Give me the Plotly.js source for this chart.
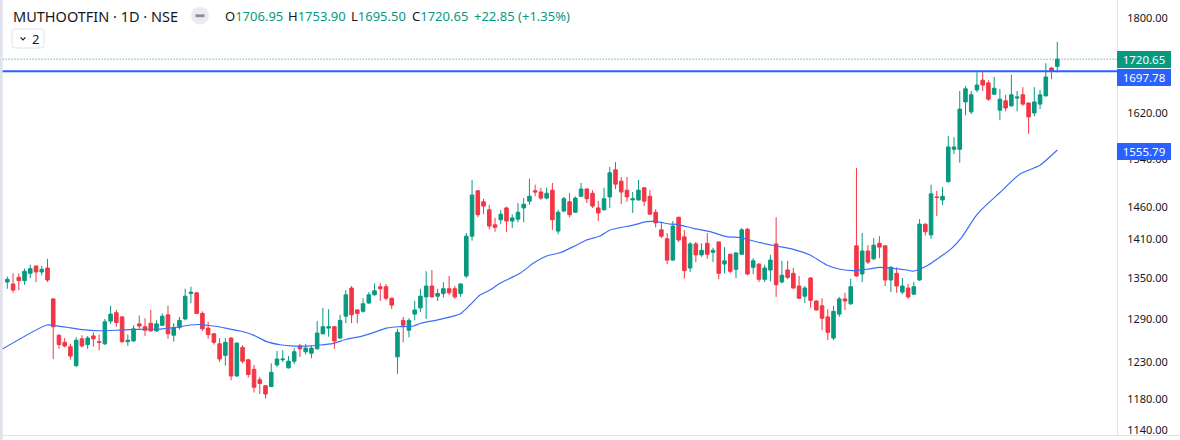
<!DOCTYPE html>
<html><head><meta charset="utf-8">
<script src="https://cdn.plot.ly/plotly-3.0.1.min.js"></script>
<style>html,body{margin:0;padding:0;background:#fff;}#chart{width:1180px;height:440px;}</style>
</head><body><div id="chart"></div>
<script>
// ---- data ----
const opens=[1344,1341,1351,1346,1357,1368,1359,1365,1319,1267,
1257,1251,1225,1262,1254,1266,1258,1255,1287,1299,
1293,1258,1259,1283,1279,1284,1273,1281,1296,1267,
1278,1290,1327,1328,1298,1277,1269,1255,1239,1263,
1211,1250,1233,1220,1206,1198,1197,1226,1233,1222,
1231,1252,1244,1242,1248,1269,1277,1279,1263,1294,
1335,1303,1301,1313,1325,1337,1337,1320,1237,1288,
1274,1297,1306,1322,1338,1323,1327,1334,1334,1327,
1353,1414,1487,1469,1456,1432,1440,1459,1438,1441,
1459,1470,1487,1485,1475,1488,1422,1454,1469,1452,
1478,1490,1483,1459,1456,1477,1522,1503,1488,1472,
1472,1492,1478,1452,1424,1410,1377,1444,1413,1365,
1402,1385,1403,1389,1405,1371,1386,1363,1386,1425,
1366,1371,1348,1362,1402,1344,1362,1357,1338,1323,
1350,1316,1309,1293,1263,1297,1319,1312,1399,1356,
1391,1379,1403,1399,1347,1357,1329,1335,1326,1347,
1433,1416,1477,1472,1502,1557,1557,1641,1623,1663,
1681,1676,1655,1626,1643,1634,1648,1654,1639,1621,
1637,1652,1704,1706.95];
const highs=[1352,1357,1357,1364,1370,1369,1368,1379,1320,1268,
1263,1255,1264,1267,1266,1271,1268,1290,1309,1303,
1294,1268,1281,1295,1291,1303,1288,1298,1309,1284,
1293,1334,1337,1329,1301,1286,1270,1263,1263,1264,
1257,1253,1234,1226,1210,1199,1228,1245,1246,1238,
1249,1255,1255,1253,1287,1306,1304,1280,1296,1332,
1338,1304,1320,1329,1342,1342,1341,1321,1276,1293,
1291,1316,1334,1360,1362,1334,1344,1353,1338,1342,
1419,1505,1488,1474,1464,1443,1456,1461,1449,1467,
1475,1507,1497,1492,1492,1500,1456,1477,1483,1478,
1500,1491,1488,1470,1492,1527,1535,1510,1510,1485,
1505,1493,1488,1457,1436,1419,1438,1445,1424,1405,
1405,1403,1419,1396,1406,1397,1387,1389,1427,1427,
1380,1372,1370,1385,1444,1376,1376,1365,1353,1338,
1351,1317,1320,1304,1309,1322,1328,1349,1525,1419,
1400,1411,1414,1400,1368,1366,1350,1341,1344,1441,
1434,1497,1487,1493,1580,1578,1661,1670,1661,1696,
1696,1681,1687,1665,1654,1691,1661,1668,1640,1668,
1663,1713,1705,1753.90];
const lows=[1334,1328,1332,1340,1350,1344,1354,1344,1234,1248,
1250,1233,1223,1250,1248,1251,1246,1253,1283,1279,
1256,1252,1258,1276,1266,1272,1272,1280,1262,1258,
1275,1288,1313,1297,1273,1262,1254,1230,1225,1205,
1210,1228,1209,1189,1187,1181,1196,1223,1230,1221,
1227,1237,1240,1235,1247,1268,1265,1248,1262,1284,
1284,1284,1299,1312,1324,1316,1317,1304,1214,1257,
1264,1288,1300,1290,1321,1316,1321,1325,1319,1322,
1350,1407,1444,1449,1425,1421,1433,1421,1427,1436,
1436,1464,1478,1472,1473,1424,1417,1452,1444,1451,
1477,1467,1459,1438,1455,1459,1490,1465,1469,1451,
1471,1462,1448,1428,1411,1371,1376,1405,1349,1359,
1374,1382,1379,1374,1348,1357,1357,1350,1385,1354,
1356,1344,1344,1345,1322,1342,1348,1334,1319,1313,
1306,1302,1274,1260,1260,1293,1303,1310,1352,1344,
1371,1377,1380,1338,1329,1328,1326,1319,1325,1346,
1415,1410,1446,1464,1501,1549,1534,1617,1619,1659,
1661,1643,1654,1608,1624,1632,1624,1634,1584,1615,
1628,1651,1683,1695.50];
const closes=[1348,1332,1346,1360,1364,1359,1363,1347,1279,1254,
1252,1238,1260,1252,1263,1262,1257,1286,1297,1285,
1258,1260,1276,1280,1274,1273,1283,1294,1269,1278,
1288,1323,1329,1298,1276,1268,1257,1234,1257,1211,
1256,1231,1213,1196,1201,1187,1216,1234,1234,1231,
1244,1248,1249,1249,1270,1279,1279,1259,1288,1325,
1296,1298,1312,1325,1331,1334,1320,1310,1271,1281,
1288,1303,1323,1338,1322,1327,1334,1328,1322,1341,
1414,1480,1448,1462,1430,1428,1449,1438,1443,1452,
1465,1478,1485,1475,1483,1440,1452,1474,1448,1475,
1490,1474,1462,1451,1474,1517,1498,1485,1477,1474,
1488,1470,1449,1435,1414,1377,1430,1408,1361,1402,
1385,1392,1386,1392,1357,1376,1360,1388,1424,1356,
1376,1348,1365,1377,1340,1354,1351,1335,1320,1335,
1317,1303,1291,1271,1301,1319,1316,1337,1353,1391,
1374,1400,1397,1347,1366,1338,1338,1322,1337,1433,
1421,1482,1476,1478,1561,1561,1628,1665,1654,1672,
1672,1646,1666,1646,1630,1654,1650,1637,1614,1641,
1654,1687,1697.80,1720.65];
// moving average: bar position (index) and value
const maIdx=[-1.3,6.86,7.96,10.35,12.67,16.15,19.64,23.12,26.61,29.52,31.84,33.58,35.9,38.23,40.55,42.87,45.2,47.52,49.84,52.18,54.5,56.81,59.15,61.47,63.79,66.12,68.44,70.76,71.92,75.41,78.89,80.64,82.38,84.12,85.87,89.36,91.67,94.01,96.33,98.64,100.98,103.3,105.04,106.78,109.1,111.44,113.18,115.5,116.67,119.56,122.47,125.38,127.7,131.19,134.1,137.0,139.9,142.81,145.13,147.45,149.78,152.1,154.42,156.76,157.9,159.07,160.52,162.26,164.59,166.34,168.66,169.53,173.01,176.5,179.98,183];
const maVals=[1245.7,1281.4,1281,1278.2,1275.3,1273.3,1274.3,1275.3,1275.7,1278.2,1281.4,1282.1,1280,1276.7,1272.9,1267.2,1258,1253.7,1251.9,1251.9,1253.3,1255.7,1261.3,1265,1270.6,1277.1,1279,1280,1283.5,1289.5,1297.1,1310.1,1324.7,1332.1,1342.1,1357,1372.1,1383.3,1388.3,1397.7,1408.1,1414.3,1423.8,1427.5,1431.6,1436.9,1436.9,1433.2,1432.7,1426.4,1421.1,1413.3,1411.7,1403.9,1398.7,1393.6,1384.8,1369.6,1363.1,1361,1363.1,1366.1,1364.6,1362,1360.2,1363.5,1369.6,1379.9,1395.1,1412.3,1444.1,1453.9,1484.2,1515,1529.7,1555.79];
const yTickVals=[1140,1180,1230,1290,1350,1410,1460,1540,1620,1800];
const hLineLevel=1697.78;
const symbolTitle='MUTHOOTFIN · 1D · NSE';
const intervalsBadge='2';

// ---- styling ----
const UP='#089981', DN='#f23645', BLUE='#2962ff', TXT='#131722', BORDER='#e0e3eb';
const FONT='Noto Sans, Roboto, sans-serif';
const PW=1117, PH=435;
const YR=[3.05473,3.26418], XR=[-1.2776,193.41];
const px=x=>x/PW, py=y=>1-y/PH;
const yFrac=v=>(Math.log10(v)-YR[0])/(YR[1]-YR[0]);

const n=opens.length, last=n-1;
const idx=opens.map((_,i)=>i);

const traces=[
 {type:'candlestick',x:idx,open:opens,high:highs,low:lows,close:closes,
  increasing:{line:{color:UP,width:1},fillcolor:UP},
  decreasing:{line:{color:DN,width:1},fillcolor:DN},
  whiskerwidth:0,hoverinfo:'skip',showlegend:false},
 {type:'scatter',mode:'lines',x:maIdx,y:maVals,line:{color:'#3b6ef7',width:1.2,shape:'spline',smoothing:0.6},hoverinfo:'skip',showlegend:false},
 {type:'scatter',mode:'lines',x:[-5,200],y:[closes[last],closes[last]],line:{color:UP,width:1,dash:'1px,2px'},hoverinfo:'skip',showlegend:false},
 {type:'scatter',mode:'lines',x:[-5,200],y:[hLineLevel,hLineLevel],line:{color:BLUE,width:2},hoverinfo:'skip',showlegend:false}
];

function ann(text,xPix,yPix,o){
 return Object.assign({xref:'paper',yref:'paper',x:px(xPix),y:py(yPix),text:text,showarrow:false,
  xanchor:'left',yanchor:'middle',borderpad:0,borderwidth:0,
  font:{family:FONT,size:13,color:TXT}},o||{});
}
const g=v=>'<span style="color:'+UP+'">'+v+'</span>';
const chg=closes[last]-closes[last-1], pct=chg/closes[last-1]*100;
const annotations=[
 ann(symbolTitle,12.7,15.7,{font:{family:FONT,size:14.5,color:TXT}}),
 ann('O'+g(opens[last].toFixed(2)),225,15.7),
 ann('H'+g(highs[last].toFixed(2)),288.3,15.7),
 ann('L'+g(lows[last].toFixed(2)),351,15.7),
 ann('C'+g(closes[last].toFixed(2)),412.3,15.7),
 ann(g('+'+chg.toFixed(2)+' (+'+pct.toFixed(2)+'%)'),474.3,15.7),
 ann(intervalsBadge,31.5,38.8,{font:{family:FONT,size:13,color:TXT}})
];
function priceLabel(v,color,shift){
 return {xref:'paper',yref:'paper',x:1,y:yFrac(v),yshift:shift,xanchor:'left',yanchor:'middle',
  text:v.toFixed(2),showarrow:false,bgcolor:color,width:50,height:13,borderpad:2,borderwidth:0,
  align:'center',font:{family:FONT,size:11.5,color:'#ffffff'}};
}
annotations.push(priceLabel(closes[last],UP,0));
annotations.push(priceLabel(hLineLevel,BLUE,-6));
annotations.push(priceLabel(maVals[maVals.length-1],BLUE,-1));

const pixShape=o=>Object.assign({xref:'paper',yref:'paper',xsizemode:'pixel',ysizemode:'pixel',xanchor:0,yanchor:1,layer:'above'},o);
const shapes=[
 {type:'rect',xref:'paper',yref:'paper',x0:0,x1:px(2.7),y0:py(441),y1:1,fillcolor:BORDER,line:{width:0},layer:'above'},
 {type:'rect',xref:'paper',yref:'paper',x0:1,x1:px(1180),y0:py(445),y1:py(435.5),fillcolor:'#ffffff',line:{width:0},layer:'above'},
 {type:'line',xref:'paper',yref:'paper',x0:0,x1:px(1180),y0:py(435.5),y1:py(435.5),line:{color:BORDER,width:1},layer:'above'},
 pixShape({type:'path',path:'M15,-29 H41 Q44,-29 44,-32 V-45 Q44,-48 41,-48 H15 Q12,-48 12,-45 V-32 Q12,-29 15,-29 Z',fillcolor:'#ffffff',line:{color:BORDER,width:1}}),
 pixShape({type:'path',path:'M20.6,-37.4 L23,-39.8 L25.4,-37.4',line:{color:TXT,width:1.2}}),
 pixShape({type:'circle',x0:191,x1:209,y0:-6.7,y1:-24.7,fillcolor:'#ebecef',line:{width:0}}),
 pixShape({type:'rect',x0:195.5,x1:204.5,y0:-14.3,y1:-17.2,fillcolor:'#8b8e97',line:{width:0}})
];

const layout={
 width:1180,height:440,autosize:false,
 margin:{l:0,r:63,t:0,b:5,pad:0},
 paper_bgcolor:'#ffffff',plot_bgcolor:'#ffffff',
 showlegend:false,boxgap:0.38,boxgroupgap:0,
 xaxis:{range:XR,visible:false,rangeslider:{visible:false},fixedrange:true},
 yaxis:{type:'log',range:YR,side:'right',tickmode:'array',tickvals:yTickVals,
  ticktext:yTickVals.map(v=>v.toFixed(2)),showgrid:false,zeroline:false,ticks:'',
  ticklabelstandoff:7,showline:true,linecolor:BORDER,linewidth:1,
  tickfont:{family:FONT,size:11,color:TXT},fixedrange:true},
 annotations:annotations,shapes:shapes
};
Plotly.newPlot('chart',traces,layout,{staticPlot:true,displayModeBar:false});
</script></body></html>
